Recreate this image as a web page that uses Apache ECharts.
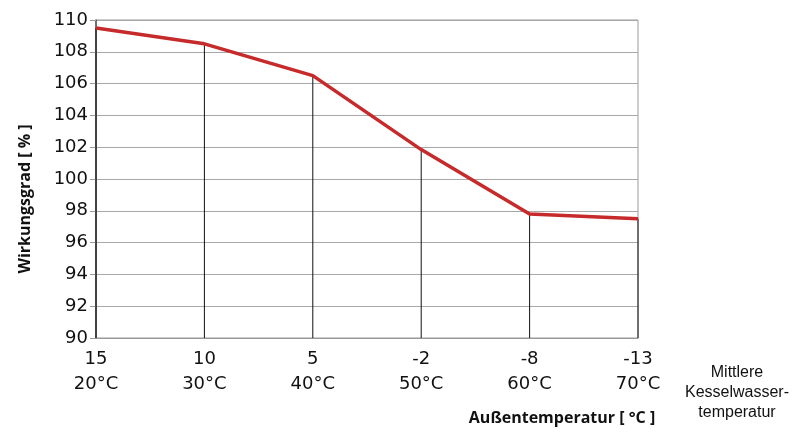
<!DOCTYPE html>
<html><head><meta charset="utf-8">
<script src="https://cdn.jsdelivr.net/npm/echarts@6/dist/echarts.min.js"></script>
<style>html,body{margin:0;padding:0;background:#fff}#c{width:800px;height:437px}</style>
</head><body><div id="c"></div>
<script>
const outsideTemps = ['15','10','5','-2','-8','-13'];
const waterTemps = ['20°C','30°C','40°C','50°C','60°C','70°C'];
const efficiency = [109.5, 108.5, 106.5, 101.85, 97.8, 97.5];
const yTicks = {min: 90, max: 110, interval: 2};

const categories = outsideTemps.map((t, i) => t + '\n' + waterTemps[i]);
const chart = echarts.init(document.getElementById('c'), null, {renderer: 'canvas'});
chart.setOption({
  animation: false,
  grid: {left: 96, right: 162, top: 20, bottom: 99, show: true, borderColor: '#9a9a9a', borderWidth: 1},
  xAxis: {
    type: 'category', data: categories, boundaryGap: false,
    axisLine: {show: true, lineStyle: {color: '#9a9a9a', width: 1}},
    axisTick: {show: false},
    axisLabel: {color: '#111', fontFamily: 'DejaVu Sans', fontSize: 18, lineHeight: 25, margin: 9}
  },
  yAxis: {
    type: 'value', min: yTicks.min, max: yTicks.max, interval: yTicks.interval,
    axisLine: {show: true, lineStyle: {color: '#555', width: 1.5}},
    axisTick: {show: true, length: 6, lineStyle: {color: '#9a9a9a'}},
    splitLine: {show: true, lineStyle: {color: '#a8a8a8', width: 1}},
    axisLabel: {color: '#111', fontFamily: 'DejaVu Sans', fontSize: 18, margin: 8}
  },
  series: [
    {type: 'bar', data: efficiency, barWidth: 1, itemStyle: {color: '#111'}, silent: true},
    {type: 'line', data: efficiency, symbol: 'none', lineStyle: {color: '#c62a2a', width: 3.5}, z: 5}
  ],
  graphic: [
    {
      type: 'text', x: 25, y: 199, rotation: Math.PI / 2,
      style: {text: 'Wirkungsgrad [ % ]', fill: '#111', fontFamily: 'Open Sans', fontWeight: 'bold', fontSize: 16,
              textAlign: 'center', textVerticalAlign: 'middle'}
    },
    {
      type: 'text', x: 562, y: 418,
      style: {text: 'Außentemperatur [ °C ]', fill: '#111', fontFamily: 'Open Sans', fontWeight: 'bold', fontSize: 16,
              textAlign: 'center', textVerticalAlign: 'middle'}
    },
    {
      type: 'text', x: 737, y: 393,
      style: {text: 'Mittlere\nKesselwasser-\ntemperatur', fill: '#111', fontFamily: 'Liberation Sans, Arial', fontSize: 16,
              lineHeight: 20, textAlign: 'center', textVerticalAlign: 'middle'}
    }
  ]
});
</script></body></html>
